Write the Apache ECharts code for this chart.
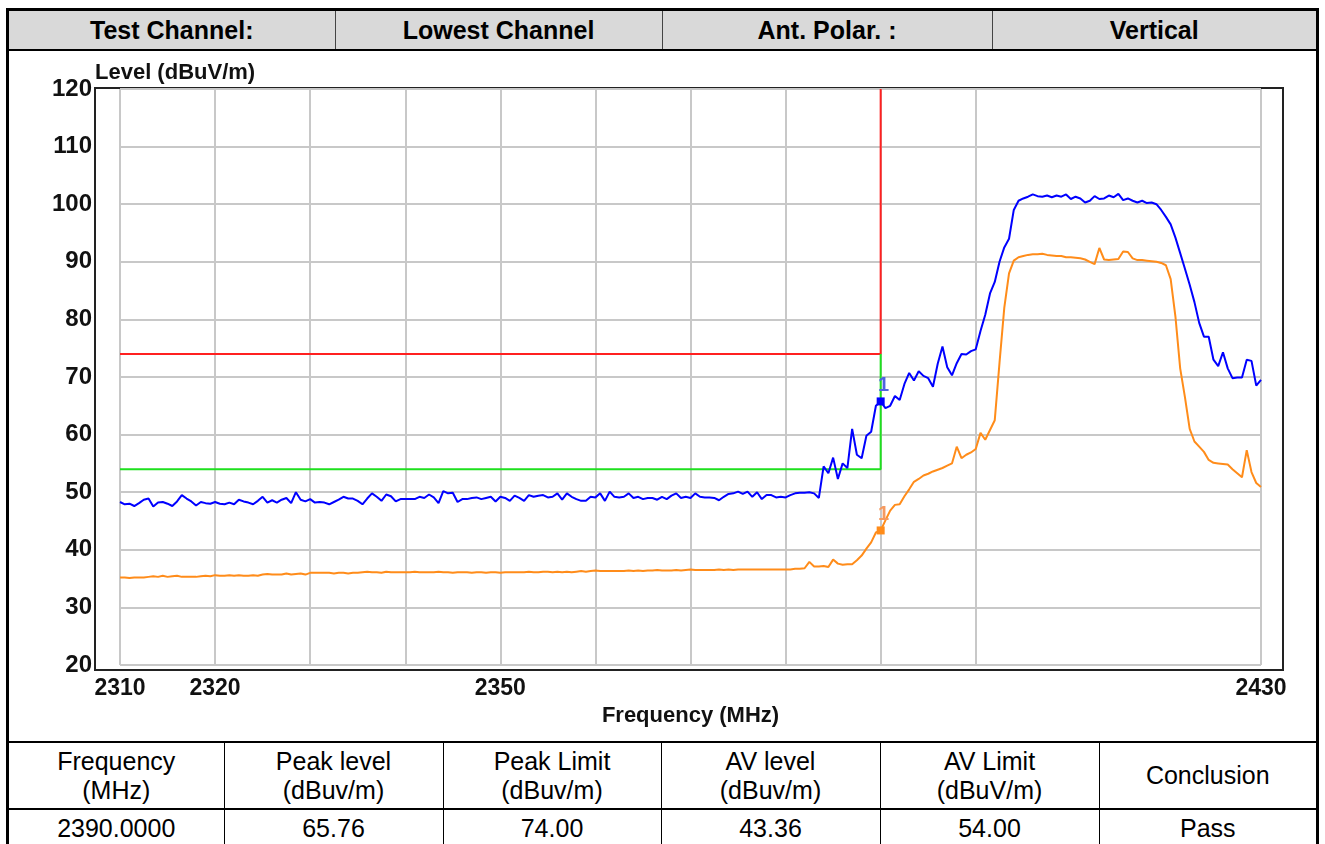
<!DOCTYPE html>
<html>
<head>
<meta charset="utf-8">
<title>Lowest Channel - Vertical</title>
<script src="https://cdn.jsdelivr.net/npm/echarts@6/dist/echarts.min.js"></script>
<style>
  html, body { margin: 0; padding: 0; background: #fff; }
  body { width: 1325px; height: 844px; position: relative; overflow: hidden; font-family: Arial, 'Liberation Sans', sans-serif; color: #000; }
  #chart { position: absolute; left: 0; top: 0; width: 1325px; height: 844px; }
  .frame { position: absolute; left: 6px; top: 8px; width: 1313px; height: 860px; border: 3px solid #000; box-sizing: border-box; pointer-events: none; }
  table { position: absolute; border-collapse: collapse; table-layout: fixed; }
  #head { left: 9px; top: 11px; width: 1307px; background: #d9d9d9; border-bottom: 2px solid #000; }
  #head td { height: 38px; padding: 0; text-align: center; font-weight: bold; font-size: 25px; border-left: 1px solid #444; }
  #head td:first-child { border-left: none; }
  #foot { left: 9px; top: 741px; width: 1307px; border-top: 2px solid #000; background: #fff; }
  #foot td { padding: 0; text-align: center; font-size: 25px; line-height: 29px; border-left: 1px solid #000; }
  #foot td:first-child { border-left: none; }
  #foot tr.names td { height: 65px; }
  #foot tr.vals td { height: 36px; border-top: 2px solid #000; }
</style>
</head>
<body>
<div id="chart"></div>
<div class="frame"></div>
<table id="head"><colgroup><col style="width:326px"><col style="width:327px"><col style="width:330px"><col style="width:324px"></colgroup><tr></tr></table>
<table id="foot"><colgroup><col style="width:215px"><col style="width:219px"><col style="width:218px"><col style="width:219px"><col style="width:219px"><col style="width:217px"></colgroup><tr class="names"></tr><tr class="vals"></tr></table>

<script>
// header / footer text
const headCells = ['Test Channel:', 'Lowest Channel', 'Ant. Polar. :', 'Vertical']
const footNames = ['Frequency\n(MHz)', 'Peak level\n(dBuv/m)', 'Peak Limit\n(dBuv/m)', 'AV level\n(dBuv/m)', 'AV Limit\n(dBuV/m)', 'Conclusion']
const conclusion = 'Pass'

// limits and marker 1
const peakLimit = 74
const avLimit = 54
const limitEdge = 2390
const markFreq = 2390
const markPeak = 65.76
const markAv = 43.36

// axes
const freqMin = 2310
const freqMax = 2430
const freqTickLabels = [2310, 2320, 2350, 2430]
const freqNoGrid = [2410, 2420]
const levelMin = 20
const levelMax = 120

// sweep, 2310 .. 2430 MHz every 0.5 MHz
const freqStart = 2310
const freqStep = 0.5
const peakLevels = [
  48.3, 47.9, 48.0, 47.6, 48.1, 48.7, 48.9, 47.5, 48.2, 48.3,
  48.0, 47.6, 48.4, 49.5, 48.9, 48.4, 47.7, 48.3, 48.1, 48.0,
  48.3, 48.0, 47.9, 48.2, 47.9, 48.7, 48.4, 48.2, 47.9, 48.5,
  49.2, 48.2, 48.6, 48.2, 48.7, 49.0, 48.1, 50.0, 48.7, 48.4,
  48.8, 48.2, 48.3, 48.2, 47.9, 48.3, 48.7, 49.2, 48.9, 48.9,
  48.5, 47.9, 48.9, 49.8, 49.2, 48.5, 49.6, 49.3, 48.4, 48.8,
  48.8, 48.8, 48.8, 49.2, 49.0, 49.6, 49.1, 48.1, 50.2, 49.8,
  49.9, 48.3,
  48.8, 48.8, 49.0, 49.1, 48.8, 49.0, 49.2, 48.4,
  49.2, 49.0, 48.5, 49.4, 49.0, 48.5, 49.5, 49.2, 49.4, 49.5,
  49.1, 49.2, 49.8, 48.7, 49.8, 49.2, 48.8, 48.5, 48.5, 49.2,
  49.1, 49.8, 48.5, 50.1, 49.2, 49.1, 49.2, 49.8, 49.0, 49.2,
  48.8, 49.0, 49.0, 48.7, 49.2, 48.8, 49.4, 49.8, 49.0, 49.2,
  49.0, 49.8, 49.2, 49.1, 49.1, 49.0, 48.6, 49.2, 49.7, 49.8,
  50.1, 49.7, 50.1, 49.2, 50.0, 48.8, 49.5, 49.5, 49.1, 49.2,
  49.1, 49.5, 49.8, 49.9, 49.9, 50.0, 49.8,
  49.0,
  54.5, 53.3, 56.0, 52.3, 55.0, 54.2, 61.0, 56.5, 55.9, 59.8,
  60.5, 65.0, 65.76, 64.6, 65.0, 66.7, 66.0, 68.8, 70.7, 69.4,
  71.0, 70.2, 69.8, 68.3, 72.3, 75.3, 71.7, 70.3, 72.4, 74.0,
  73.9, 74.5, 74.8, 78.0, 80.8, 84.5, 86.5, 90.0, 92.5, 94.0,
  99.0, 100.6, 101.0, 101.3, 101.7, 101.4, 101.3, 101.5, 101.2, 101.5,
  101.3, 101.7, 100.9, 101.3, 101.0, 100.3, 100.6, 101.4, 100.9, 101.0,
  101.5, 101.2, 101.8, 100.7, 101.0, 100.6, 100.3, 100.6, 100.2, 100.3,
  100.0, 99.0, 97.8, 96.5, 94.2, 91.5, 88.8, 86.0, 83.0, 79.4,
  77.0, 77.0, 73.0, 71.9, 74.3, 71.5, 69.8, 69.9, 69.9, 73.0,
  72.8, 68.5, 69.5
]
const avLevels = [
  35.2, 35.2, 35.1, 35.2, 35.2, 35.2, 35.3, 35.4, 35.3, 35.5,
  35.3, 35.4, 35.5, 35.3, 35.3, 35.3, 35.3, 35.4, 35.5, 35.4,
  35.6, 35.5, 35.5, 35.6, 35.5, 35.6, 35.5, 35.5, 35.6, 35.5,
  35.7, 35.8, 35.7, 35.7, 35.7, 35.9, 35.7, 35.8, 35.9, 35.7,
  36.0, 36.0, 36.0, 36.0, 36.0, 35.9, 36.0, 36.0, 35.9, 36.0,
  36.0, 36.1, 36.2, 36.1, 36.1, 36.0, 36.2, 36.1, 36.1, 36.1,
  36.1, 36.1, 36.2, 36.1, 36.1, 36.1, 36.1, 36.2, 36.1, 36.1,
  36.0, 36.1,
  36.1, 36.1, 36.0, 36.1, 36.1, 36.0, 36.1, 36.1,
  36.0, 36.1, 36.1, 36.1, 36.1, 36.1, 36.2, 36.1, 36.1, 36.2,
  36.2, 36.1, 36.2, 36.1, 36.2, 36.1, 36.2, 36.3, 36.2, 36.3,
  36.4, 36.3, 36.3, 36.3, 36.3, 36.3, 36.3, 36.4, 36.3, 36.4,
  36.3, 36.4, 36.4, 36.5, 36.4, 36.4, 36.4, 36.5, 36.4, 36.5,
  36.6, 36.5, 36.5, 36.5, 36.5, 36.5, 36.6, 36.5, 36.6, 36.5,
  36.6, 36.6, 36.6, 36.6, 36.6, 36.6, 36.6, 36.6, 36.6, 36.6,
  36.6, 36.6, 36.7, 36.7, 36.8, 37.9, 37.1,
  37.1,
  37.2, 37.0, 38.3, 37.6, 37.4, 37.5, 37.5, 38.2, 39.0, 40.2,
  41.3, 43.0, 43.36, 45.1, 46.8, 47.8, 47.9, 49.3, 50.5, 51.8,
  52.3, 52.9, 53.2, 53.6, 53.9, 54.2, 54.6, 55.0, 57.9, 55.9,
  56.5, 56.9, 57.5, 60.3, 59.1, 60.8, 62.5, 72.5, 82.0, 88.0,
  90.2, 90.8, 91.0, 91.2, 91.3, 91.3, 91.4, 91.2, 91.1, 91.0,
  91.0, 90.8, 90.8, 90.7, 90.6, 90.4, 90.0, 89.6, 92.4, 90.4,
  90.3, 90.4, 90.5, 91.8, 91.7, 90.6, 90.3, 90.3, 90.2, 90.1,
  90.0, 89.8, 89.4, 87.0, 80.5, 71.5, 66.5, 61.0, 58.8, 57.9,
  57.0, 55.6, 55.1, 55.0, 54.9, 54.8, 54.0, 53.3, 52.6, 57.3,
  53.5, 51.6, 50.9
]

// ---- tables ----
const headRow = document.querySelector('#head tr')
headCells.forEach(t => {
  const td = document.createElement('td')
  td.textContent = t
  headRow.appendChild(td)
})
const footVals = [markFreq.toFixed(4), markPeak.toFixed(2), peakLimit.toFixed(2), markAv.toFixed(2), avLimit.toFixed(2), conclusion]
const namesRow = document.querySelector('#foot tr.names')
const valsRow = document.querySelector('#foot tr.vals')
footNames.forEach((t, i) => {
  const td = document.createElement('td')
  td.innerHTML = t.replace('\n', '<br>')
  namesRow.appendChild(td)
  const tv = document.createElement('td')
  tv.textContent = footVals[i]
  valsRow.appendChild(tv)
})

// ---- chart ----
const font = 'Arial, "Liberation Sans", sans-serif'
const toPairs = arr => arr.map((v, i) => [freqStart + i * freqStep, v])

// vertical grid line colours, one per 10 MHz tick
const gridGray = '#c8c8c8'
const xGridColors = []
for (let f = freqMin; f <= freqMax; f += 10) {
  xGridColors.push(freqNoGrid.indexOf(f) >= 0 ? 'rgba(0,0,0,0)' : gridGray)
}

// the "1" tag above marker 1
const markLabel = color => ({
  show: true,
  position: 'top',
  distance: 2,
  offset: [3, 0],
  formatter: '1',
  color: color,
  fontSize: 20,
  fontWeight: 'bold',
  fontFamily: font
})

const chart = echarts.init(document.getElementById('chart'))
chart.setOption({
  animation: false,
  backgroundColor: 'transparent',
  grid: [
    { left: 120, right: 64, top: 89, bottom: 179 },
    // outer plot frame
    { left: 95, right: 42, top: 88, bottom: 174, show: true, borderColor: '#222', borderWidth: 2, backgroundColor: 'transparent' }
  ],
  xAxis: [
    {
      type: 'value',
      gridIndex: 0,
      min: freqMin,
      max: freqMax,
      interval: 10,
      axisLine: { show: false },
      axisTick: { show: false },
      splitLine: { show: true, lineStyle: { color: xGridColors, width: 2 } },
      axisLabel: {
        margin: 12,
        color: '#111',
        fontWeight: 'bold',
        fontSize: 23,
        fontFamily: font,
        formatter: v => (freqTickLabels.indexOf(v) >= 0 ? String(v) : '')
      },
      name: 'Frequency (MHz)',
      nameLocation: 'middle',
      nameGap: 38,
      nameTextStyle: { color: '#111', fontWeight: 'bold', fontSize: 22, fontFamily: font }
    },
    { type: 'value', gridIndex: 1, show: false, min: 0, max: 1 }
  ],
  yAxis: [
    {
      type: 'value',
      gridIndex: 0,
      min: levelMin,
      max: levelMax,
      interval: 10,
      axisLine: { show: false },
      axisTick: { show: false },
      splitLine: { show: true, lineStyle: { color: gridGray, width: 2 } },
      axisLabel: { margin: 28, color: '#111', fontWeight: 'bold', fontSize: 24, fontFamily: font }
    },
    {
      type: 'value',
      gridIndex: 1,
      min: 0,
      max: 1,
      axisLine: { show: false },
      axisTick: { show: false },
      axisLabel: { show: false },
      splitLine: { show: false },
      name: 'Level (dBuV/m)',
      nameLocation: 'end',
      nameGap: 4,
      nameTextStyle: { align: 'left', color: '#111', fontWeight: 'bold', fontSize: 22, fontFamily: font }
    }
  ],
  series: [
    {
      name: 'Peak Limit',
      type: 'line',
      xAxisIndex: 0,
      yAxisIndex: 0,
      z: 1,
      symbol: 'none',
      lineStyle: { color: '#ff2020', width: 2 },
      data: [[freqMin, peakLimit], [limitEdge, peakLimit], [limitEdge, levelMax]]
    },
    {
      name: 'AV Limit',
      type: 'line',
      xAxisIndex: 0,
      yAxisIndex: 0,
      z: 1,
      symbol: 'none',
      lineStyle: { color: '#1ee01e', width: 2 },
      data: [[freqMin, avLimit], [limitEdge, avLimit], [limitEdge, peakLimit]]
    },
    {
      name: 'AV',
      type: 'line',
      xAxisIndex: 0,
      yAxisIndex: 0,
      z: 3,
      symbol: 'none',
      lineStyle: { color: '#ff8c1a', width: 2 },
      data: toPairs(avLevels),
      markPoint: {
        symbol: 'rect',
        symbolSize: 8,
        itemStyle: { color: '#ff8c1a' },
        label: markLabel('#f59a60'),
        data: [{ coord: [markFreq, markAv] }]
      }
    },
    {
      name: 'Peak',
      type: 'line',
      xAxisIndex: 0,
      yAxisIndex: 0,
      z: 4,
      symbol: 'none',
      lineStyle: { color: '#0000ff', width: 2 },
      data: toPairs(peakLevels),
      markPoint: {
        symbol: 'rect',
        symbolSize: 8,
        itemStyle: { color: '#0000ff' },
        label: markLabel('#4f63e0'),
        data: [{ coord: [markFreq, markPeak] }]
      }
    }
  ]
})
</script>
</body>
</html>
